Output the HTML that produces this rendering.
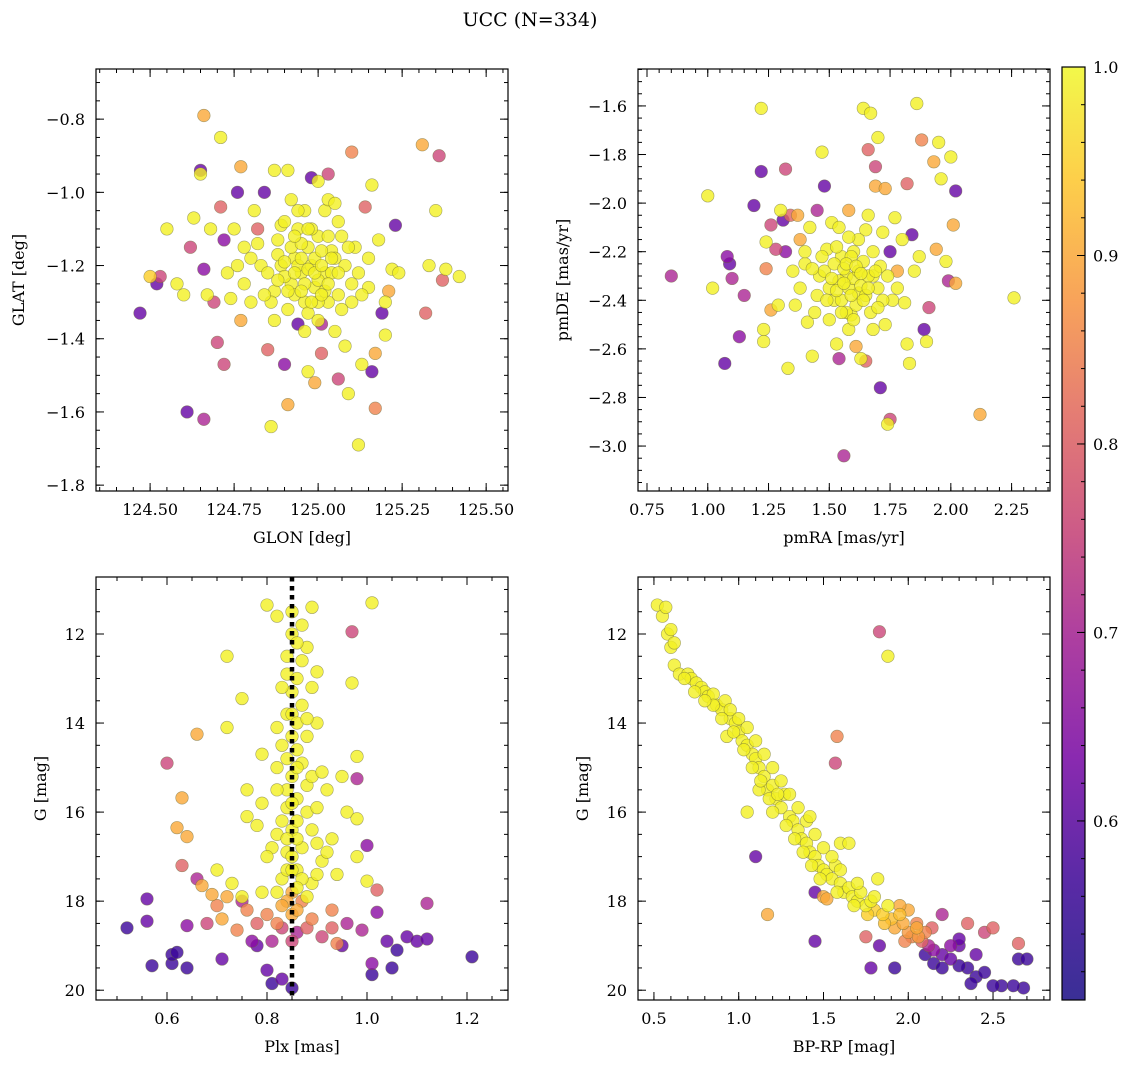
<!DOCTYPE html>
<html><head><meta charset="utf-8"><style>
body{margin:0;background:#fff}
svg{display:block}
svg text{font-family:"DejaVu Serif","Liberation Serif",serif}
</style></head><body>
<svg id="fig" width="1136" height="1068" viewBox="0 0 1136 1068">
<defs><linearGradient id="cg" x1="0" y1="1" x2="0" y2="0">
<stop offset="0" stop-color="#3a2f96"/><stop offset="0.13" stop-color="#5a2aa6"/><stop offset="0.26" stop-color="#8a2ab0"/><stop offset="0.39" stop-color="#ae3fa0"/><stop offset="0.5" stop-color="#cc5a88"/><stop offset="0.63" stop-color="#e57d73"/><stop offset="0.75" stop-color="#f8a35a"/><stop offset="0.88" stop-color="#fdcf4a"/><stop offset="1" stop-color="#f2f84a"/></linearGradient></defs>
<text x="530" y="26" font-size="19" text-anchor="middle">UCC (N=334)</text>
</svg>
<script>
// ---- data ----
const glonGlatP = [[124.47,-1.33,0.6],[124.52,-1.25,0.6],[124.50,-1.23,0.95],[124.53,-1.23,0.75],[124.55,-1.10,0.99],[124.58,-1.25,0.99],[124.60,-1.28,0.99],[124.61,-1.60,0.6],[124.62,-1.15,0.75],[124.63,-1.07,0.99],[124.65,-0.94,0.6],[124.65,-0.95,0.99],[124.66,-0.79,0.9],[124.66,-1.62,0.7],[124.66,-1.21,0.65],[124.67,-1.28,0.99],[124.68,-1.10,0.99],[124.69,-1.30,0.75],[124.70,-1.41,0.75],[124.71,-0.85,0.99],[124.71,-1.04,0.8],[124.72,-1.13,0.65],[124.72,-1.47,0.75],[124.73,-1.22,0.99],[124.74,-1.29,0.99],[124.76,-1.00,0.6],[124.77,-1.35,0.9],[124.77,-0.93,0.9],[124.78,-1.15,0.99],[124.80,-1.30,0.99],[124.81,-1.05,0.99],[124.82,-1.10,0.8],[124.83,-1.20,0.99],[124.84,-1.00,0.6],[124.85,-1.43,0.8],[124.86,-1.64,0.99],[124.87,-0.94,0.99],[124.87,-1.27,0.99],[124.88,-1.13,0.99],[124.89,-1.20,0.99],[124.90,-1.47,0.65],[124.91,-0.94,0.99],[124.91,-1.58,0.9],[124.92,-1.25,0.99],[124.93,-1.18,0.99],[124.94,-1.10,0.99],[124.94,-1.36,0.6],[124.95,-1.22,0.99],[124.96,-1.05,0.99],[124.96,-1.30,0.99],[124.97,-1.15,0.99],[124.97,-1.49,0.99],[124.98,-0.96,0.6],[124.98,-1.20,0.99],[124.99,-1.26,0.99],[124.99,-1.52,0.9],[125.00,-1.12,0.99],[125.00,-0.97,0.99],[125.01,-1.36,0.7],[125.01,-1.44,0.8],[125.02,-1.05,0.99],[125.02,-1.22,0.99],[125.03,-1.30,0.99],[125.03,-0.95,0.75],[125.04,-1.16,0.99],[125.05,-1.38,0.99],[125.06,-1.08,0.99],[125.06,-1.51,0.75],[125.08,-1.20,0.99],[125.08,-1.42,0.99],[125.09,-1.55,0.99],[125.10,-0.89,0.85],[125.10,-1.30,0.99],[125.11,-1.15,0.99],[125.12,-1.69,0.99],[125.13,-1.47,0.99],[125.14,-1.04,0.8],[125.15,-1.26,0.99],[125.16,-0.98,0.99],[125.16,-1.49,0.6],[125.17,-1.44,0.9],[125.17,-1.59,0.85],[125.18,-1.13,0.99],[125.19,-1.33,0.6],[125.20,-1.39,0.99],[125.21,-1.27,0.9],[125.22,-1.21,0.99],[125.23,-1.09,0.6],[125.24,-1.22,0.99],[125.31,-0.87,0.9],[125.32,-1.33,0.8],[125.33,-1.20,0.99],[125.35,-1.05,0.99],[125.36,-0.90,0.75],[125.37,-1.24,0.8],[125.38,-1.21,0.99],[125.42,-1.23,0.99],
[124.88,-1.17,0.99],[124.90,-1.23,0.99],[124.92,-1.15,0.99],[124.93,-1.28,0.99],[124.94,-1.20,0.99],[124.95,-1.14,0.99],[124.96,-1.25,0.99],[124.97,-1.33,0.99],[124.98,-1.10,0.99],[124.99,-1.18,0.99],[125.00,-1.24,0.99],[125.00,-1.30,0.99],[125.01,-1.16,0.99],[125.02,-1.27,0.99],[125.03,-1.12,0.99],[125.04,-1.22,0.99],[125.05,-1.18,0.99],[125.06,-1.28,0.99],[124.91,-1.32,0.99],[124.89,-1.09,0.99],[124.85,-1.22,0.99],[124.86,-1.30,0.99],[124.94,-1.05,0.99],[125.07,-1.12,0.99],[125.03,-1.02,0.99],[124.96,-1.38,0.99],[124.92,-1.02,0.99],[124.98,-1.30,0.99],[125.12,-1.22,0.99],[124.80,-1.18,0.99],
[124.90,-1.19,0.99],[124.91,-1.27,0.99],[124.93,-1.22,0.99],[124.95,-1.18,0.99],[124.95,-1.27,0.99],[124.97,-1.21,0.99],[124.99,-1.22,0.99],[125.01,-1.20,0.99],[125.01,-1.28,0.99],[125.03,-1.25,0.99],[125.04,-1.18,0.99],[124.97,-1.10,0.99],[124.93,-1.12,0.99],[124.88,-1.24,0.99],[125.06,-1.22,0.99],[125.07,-1.32,0.99],[124.84,-1.28,0.99],[124.82,-1.14,0.99],[125.09,-1.15,0.99],[125.10,-1.25,0.99],[124.78,-1.25,0.99],[124.76,-1.20,0.99],[125.13,-1.28,0.99],[124.87,-1.35,0.99],[125.00,-1.35,0.99],[124.90,-1.08,0.99],[125.05,-1.03,0.99],[124.75,-1.10,0.99],[125.15,-1.18,0.99],[125.20,-1.30,0.99]];

const pmraPmdeP = [[0.85,-2.30,0.7],[1.00,-1.97,0.99],[1.02,-2.35,0.99],[1.07,-2.66,0.6],[1.08,-2.22,0.65],[1.09,-2.25,0.6],[1.10,-2.31,0.7],[1.13,-2.55,0.65],[1.15,-2.38,0.7],[1.19,-2.01,0.6],[1.22,-1.61,0.99],[1.22,-1.87,0.6],[1.23,-2.52,0.99],[1.23,-2.57,0.99],[1.24,-2.16,0.99],[1.24,-2.27,0.85],[1.26,-2.44,0.9],[1.26,-2.09,0.75],[1.28,-2.19,0.75],[1.29,-2.42,0.99],[1.30,-2.03,0.99],[1.31,-2.07,0.6],[1.32,-1.86,0.75],[1.32,-2.20,0.65],[1.33,-2.68,0.99],[1.34,-2.05,0.8],[1.35,-2.28,0.99],[1.37,-2.05,0.9],[1.38,-2.15,0.9],[1.40,-2.25,0.99],[1.41,-2.49,0.99],[1.42,-2.10,0.99],[1.43,-2.63,0.99],[1.45,-2.03,0.7],[1.46,-2.30,0.99],[1.47,-1.79,0.99],[1.48,-1.93,0.6],[1.49,-2.19,0.99],[1.50,-2.48,0.99],[1.51,-2.08,0.99],[1.52,-2.40,0.99],[1.53,-2.58,0.99],[1.54,-2.64,0.7],[1.55,-2.22,0.99],[1.56,-3.04,0.7],[1.57,-2.30,0.99],[1.58,-2.03,0.9],[1.59,-2.46,0.99],[1.60,-2.20,0.99],[1.61,-2.59,0.9],[1.62,-2.37,0.99],[1.63,-2.64,0.99],[1.64,-1.61,0.99],[1.65,-2.11,0.99],[1.65,-2.65,0.8],[1.66,-1.78,0.8],[1.67,-1.63,0.99],[1.68,-2.30,0.99],[1.69,-1.93,0.9],[1.69,-1.85,0.75],[1.70,-1.73,0.99],[1.71,-2.76,0.6],[1.72,-2.12,0.99],[1.73,-1.94,0.9],[1.74,-2.91,0.99],[1.75,-2.89,0.75],[1.75,-2.20,0.6],[1.76,-2.40,0.99],[1.77,-2.06,0.99],[1.78,-2.28,0.9],[1.80,-2.15,0.99],[1.81,-2.41,0.99],[1.82,-1.92,0.8],[1.82,-2.58,0.99],[1.83,-2.66,0.99],[1.84,-2.13,0.6],[1.85,-2.28,0.99],[1.86,-1.59,0.99],[1.87,-2.22,0.99],[1.88,-1.74,0.85],[1.89,-2.52,0.6],[1.90,-2.57,0.99],[1.91,-2.43,0.75],[1.93,-1.83,0.9],[1.94,-2.19,0.9],[1.95,-1.75,0.99],[1.96,-1.90,0.99],[1.98,-2.24,0.99],[1.99,-2.32,0.7],[2.00,-1.81,0.99],[2.01,-2.09,0.9],[2.02,-1.95,0.6],[2.02,-2.33,0.9],[2.12,-2.87,0.9],[2.26,-2.39,0.99],
[1.48,-2.28,0.99],[1.50,-2.35,0.99],[1.52,-2.25,0.99],[1.54,-2.32,0.99],[1.55,-2.40,0.99],[1.56,-2.27,0.99],[1.58,-2.35,0.99],[1.59,-2.22,0.99],[1.60,-2.31,0.99],[1.61,-2.42,0.99],[1.62,-2.28,0.99],[1.63,-2.34,0.99],[1.64,-2.24,0.99],[1.65,-2.38,0.99],[1.66,-2.30,0.99],[1.67,-2.45,0.99],[1.68,-2.20,0.99],[1.70,-2.35,0.99],[1.71,-2.26,0.99],[1.72,-2.40,0.99],[1.57,-2.45,0.99],[1.53,-2.18,0.99],[1.45,-2.38,0.99],[1.62,-2.15,0.99],[1.73,-2.50,0.99],[1.58,-2.52,0.99],[1.66,-2.05,0.99],[1.43,-2.27,0.99],
[1.51,-2.31,0.99],[1.53,-2.36,0.99],[1.56,-2.33,0.99],[1.57,-2.25,0.99],[1.59,-2.38,0.99],[1.61,-2.26,0.99],[1.63,-2.29,0.99],[1.64,-2.40,0.99],[1.66,-2.35,0.99],[1.69,-2.28,0.99],[1.55,-2.45,0.99],[1.60,-2.48,0.99],[1.49,-2.40,0.99],[1.47,-2.22,0.99],[1.70,-2.43,0.99],[1.74,-2.30,0.99],[1.58,-2.14,0.99],[1.54,-2.10,0.99],[1.44,-2.45,0.99],[1.38,-2.35,0.99],[1.78,-2.35,0.99],[1.68,-2.52,0.99],[1.40,-2.20,0.99],[1.36,-2.42,0.99]];

const plxGP = [[0.52,18.6,0.55],[0.56,17.95,0.6],[0.56,18.45,0.6],[0.57,19.45,0.55],[0.60,14.9,0.75],[0.61,19.4,0.55],[0.61,19.2,0.55],[0.62,19.15,0.55],[0.62,16.35,0.9],[0.63,15.68,0.9],[0.63,17.2,0.8],[0.64,18.55,0.65],[0.64,16.55,0.9],[0.64,19.5,0.55],[0.66,14.25,0.9],[0.66,17.5,0.7],[0.67,17.65,0.9],[0.68,18.5,0.75],[0.69,17.85,0.9],[0.70,17.3,0.99],[0.70,18.1,0.85],[0.71,19.3,0.6],[0.71,18.4,0.9],[0.72,14.1,0.99],[0.72,12.5,0.99],[0.73,17.6,0.99],[0.74,18.65,0.85],[0.75,13.45,0.99],[0.75,17.9,0.99],[0.75,18.0,0.7],[0.76,15.5,0.99],[0.76,16.1,0.99],[0.77,18.9,0.65],[0.78,19.0,0.6],[0.78,18.5,0.8],[0.79,17.8,0.99],[0.79,14.7,0.99],[0.80,18.3,0.85],[0.80,19.55,0.6],[0.80,11.35,0.99],[0.81,19.85,0.55],[0.82,11.6,0.99],[0.82,15.0,0.99],[0.82,16.5,0.99],[0.83,17.5,0.99],[0.83,18.6,0.75],[0.83,19.75,0.6],[0.84,12.9,0.99],[0.84,13.8,0.99],[0.84,15.9,0.99],[0.84,16.9,0.99],[0.85,12.0,0.99],[0.85,13.3,0.99],[0.85,14.3,0.99],[0.85,15.2,0.99],[0.85,16.4,0.99],[0.85,17.0,0.99],[0.85,17.8,0.9],[0.85,18.3,0.9],[0.85,19.95,0.55],[0.86,13.0,0.99],[0.86,14.6,0.99],[0.86,15.7,0.99],[0.86,16.2,0.99],[0.86,17.3,0.99],[0.86,18.7,0.7],[0.87,13.6,0.99],[0.87,14.9,0.99],[0.87,16.8,0.99],[0.87,18.0,0.85],[0.88,12.3,0.99],[0.88,15.4,0.99],[0.88,16.0,0.99],[0.89,11.4,0.99],[0.89,13.2,0.99],[0.89,17.6,0.99],[0.89,18.4,0.85],[0.90,14.0,0.99],[0.90,15.9,0.99],[0.90,12.85,0.99],[0.91,17.1,0.99],[0.91,18.8,0.75],[0.92,15.5,0.99],[0.93,16.6,0.99],[0.93,18.2,0.85],[0.94,17.4,0.99],[0.94,18.95,0.85],[0.95,15.2,0.99],[0.95,19.0,0.6],[0.96,16.0,0.99],[0.96,18.5,0.7],[0.97,13.1,0.99],[0.97,11.95,0.75],[0.98,17.0,0.99],[0.98,14.75,0.99],[0.98,15.25,0.7],[0.98,16.15,0.99],[0.99,18.65,0.7],[1.00,17.55,0.99],[1.00,16.75,0.65],[1.01,11.3,0.99],[1.01,19.4,0.65],[1.01,19.65,0.55],[1.02,17.75,0.8],[1.02,18.25,0.65],[1.04,18.9,0.6],[1.05,19.5,0.55],[1.06,19.1,0.55],[1.08,18.8,0.6],[1.10,18.9,0.6],[1.12,18.85,0.6],[1.12,18.05,0.7],[1.21,19.25,0.55],
[0.83,14.5,0.99],[0.84,15.5,0.99],[0.86,16.6,0.99],[0.87,17.5,0.99],[0.83,16.2,0.99],[0.88,14.3,0.99],[0.84,17.3,0.99],[0.82,17.8,0.99],[0.88,17.9,0.99],[0.81,16.8,0.99],[0.89,16.4,0.99],[0.84,18.0,0.9],[0.86,18.2,0.9],[0.82,18.5,0.85],[0.90,17.4,0.99],[0.80,17.0,0.99],[0.87,12.6,0.99],[0.83,13.2,0.99],[0.89,15.2,0.99],[0.92,16.9,0.99],[0.79,15.8,0.99],[0.93,18.6,0.8],
[0.85,11.5,0.99],[0.86,12.2,0.99],[0.84,12.5,0.99],[0.85,13.8,0.99],[0.86,14.0,0.99],[0.84,14.8,0.99],[0.86,15.0,0.99],[0.85,15.8,0.99],[0.84,16.6,0.99],[0.85,17.3,0.99],[0.86,17.7,0.99],[0.83,18.1,0.9],[0.88,18.6,0.8],[0.85,18.9,0.75],[0.81,18.9,0.7],[0.76,18.2,0.85],[0.72,17.9,0.9],[0.90,16.7,0.99],[0.82,15.5,0.99],[0.78,16.3,0.99],[0.91,15.1,0.99],[0.88,13.9,0.99],[0.82,14.1,0.99],[0.87,11.8,0.99]];

const bprpGP = [[0.52,11.35,0.99],[0.55,11.6,0.99],[0.57,11.4,0.99],[0.58,12.0,0.99],[0.60,11.9,0.99],[0.60,12.3,0.99],[0.62,12.2,0.99],[0.62,12.7,0.99],[0.65,12.9,0.99],[0.70,12.9,0.99],[0.72,13.0,0.99],[0.75,13.1,0.99],[0.78,13.2,0.99],[0.80,13.3,0.99],[0.82,13.4,0.99],[0.85,13.35,0.99],[0.87,13.6,0.99],[0.90,13.7,0.99],[0.92,13.5,0.99],[0.95,13.9,0.99],[0.98,14.0,0.99],[1.00,14.2,0.99],[1.02,14.4,0.99],[1.05,14.5,0.99],[1.08,14.7,0.99],[1.10,14.8,0.99],[1.12,15.0,0.99],[1.15,15.2,0.99],[1.17,15.5,0.99],[1.20,15.4,0.99],[1.22,15.7,0.99],[1.25,15.9,0.99],[1.27,15.6,0.99],[1.30,16.1,0.99],[1.32,16.2,0.99],[1.35,16.4,0.99],[1.37,16.6,0.99],[1.40,16.7,0.99],[1.42,16.9,0.99],[1.45,17.0,0.99],[1.47,17.2,0.99],[1.50,17.3,0.99],[1.52,17.4,0.99],[1.55,17.5,0.99],[1.57,17.2,0.99],[1.60,17.6,0.99],[1.62,17.8,0.99],[1.65,17.7,0.99],[1.67,17.9,0.99],[1.70,18.0,0.99],[1.72,17.8,0.99],[1.75,18.1,0.99],[1.78,18.0,0.99],[1.80,18.2,0.95],[1.82,17.5,0.99],[1.85,18.3,0.95],[1.88,18.1,0.99],[1.90,18.4,0.93],[1.92,18.6,0.9],[1.95,18.3,0.93],[1.97,18.5,0.9],[2.00,18.7,0.88],[2.02,18.8,0.85],[2.05,18.6,0.9],[2.08,18.9,0.8],[2.10,18.7,0.85],[2.12,19.0,0.7],[2.15,19.1,0.65],[2.20,19.2,0.6],[2.25,19.3,0.6],[2.30,19.0,0.6],[2.35,19.5,0.55],[2.40,19.7,0.55],[2.45,19.6,0.55],[2.55,19.9,0.55],[2.65,19.3,0.55],[2.68,19.95,0.55],[2.70,19.3,0.55],
[1.10,17.0,0.6],[1.17,18.3,0.9],[1.45,18.9,0.6],[1.58,14.3,0.85],[1.57,14.9,0.75],[1.83,11.95,0.75],[1.88,12.5,0.99],[1.78,19.5,0.6],[1.83,19.0,0.6],[1.92,19.5,0.55],[1.75,18.8,0.8],[1.50,17.9,0.9],[1.52,17.95,0.9],[1.45,17.8,0.6],[2.20,18.3,0.7],[2.35,18.5,0.8],[2.45,18.7,0.75],[2.50,18.6,0.8],[2.65,18.95,0.8],[2.30,19.45,0.55],[2.37,19.85,0.55],[2.50,19.9,0.55],[2.62,19.9,0.55],[2.10,19.2,0.55],[2.15,19.4,0.55],[2.20,19.5,0.55],[2.25,19.0,0.65],[2.30,18.85,0.6],[2.40,19.2,0.6],[2.00,18.2,0.9],[2.05,18.5,0.85],[1.95,18.1,0.9],
[0.85,13.6,0.99],[0.95,13.7,0.99],[1.00,13.9,0.99],[1.05,14.1,0.99],[1.10,14.4,0.99],[1.15,14.7,0.99],[1.20,15.0,0.99],[1.25,15.3,0.99],[1.30,15.6,0.99],[1.35,15.9,0.99],[1.40,16.2,0.99],[1.45,16.5,0.99],[1.50,16.8,0.99],[1.55,17.0,0.99],[1.60,17.3,0.99],[1.70,17.6,0.99],[1.80,17.9,0.99],[1.20,16.0,0.99],[1.05,16.0,0.99],[1.42,16.1,0.99],[1.60,16.7,0.99],[1.65,16.7,0.99],[0.93,14.3,0.99],[1.12,15.5,0.99],
[0.68,13.0,0.99],[0.74,13.3,0.99],[0.80,13.5,0.99],[0.90,13.9,0.99],[0.97,14.2,0.99],[1.03,14.6,0.99],[1.08,15.0,0.99],[1.13,15.3,0.99],[1.18,15.7,0.99],[1.23,15.6,0.99],[1.28,16.3,0.99],[1.33,16.6,0.99],[1.38,16.9,0.99],[1.43,17.2,0.99],[1.48,17.5,0.99],[1.58,17.8,0.99],[1.68,18.1,0.99],[1.76,18.3,0.95],[1.86,18.5,0.93],[1.98,18.9,0.85],[2.06,18.8,0.88],[2.14,18.6,0.8]];

const plxLine = 0.85;
const cbTicks = [0.6,0.7,0.8,0.9,1.0];
const p1XTicks=[124.5,124.75,125,125.25,125.5], p1YTicks=[-0.8,-1.0,-1.2,-1.4,-1.6,-1.8];
const p2XTicks=[0.75,1.0,1.25,1.5,1.75,2.0,2.25], p2YTicks=[-1.6,-1.8,-2.0,-2.2,-2.4,-2.6,-2.8,-3.0];
const p3XTicks=[0.6,0.8,1.0,1.2], gTicks=[12,14,16,18,20];
const p4XTicks=[0.5,1.0,1.5,2.0,2.5];

// ---- drawing ----
const NS="http://www.w3.org/2000/svg", svg=document.getElementById('fig');
function mk(t,a,p){const e=document.createElementNS(NS,t);for(const k in a)e.setAttribute(k,a[k]);(p||svg).appendChild(e);return e;}
const stops=[[0,[13,8,135]],[0.13,[76,2,161]],[0.26,[126,3,168]],[0.39,[169,35,149]],[0.5,[204,71,120]],[0.63,[229,107,93]],[0.75,[248,149,64]],[0.88,[253,197,39]],[1,[240,249,33]]];
const vmin=0.505,vmax=1.0;
function cmap(v){let t=Math.max(0,Math.min(1,(v-vmin)/(vmax-vmin)));for(let i=1;i<stops.length;i++){if(t<=stops[i][0]){const a=stops[i-1],b=stops[i],f=(t-a[0])/(b[0]-a[0]);return 'rgb('+a[1].map((c,j)=>Math.round(c+(b[1][j]-c)*f)).join(',')+')';}}return 'rgb(240,249,33)';}
function fmt(v,d){return v.toFixed(d).replace('-','\u2212');}
function panel(o){
  const g=mk('g',{});
  
  
  const sx=v=>o.x0+(v-o.xr[0])/(o.xr[1]-o.xr[0])*(o.x1-o.x0);
  const sy=v=>o.inv? o.y0+(v-o.yr[0])/(o.yr[1]-o.yr[0])*(o.y1-o.y0) : o.y1-(v-o.yr[0])/(o.yr[1]-o.yr[0])*(o.y1-o.y0);
  const pts=o.data.slice().sort((a,b)=>a[2]-b[2]);
  for(const d of pts){const c=mk('circle',{cx:sx(d[0]),cy:sy(d[1]),r:6.3,fill:cmap(d[2]),'fill-opacity':0.8,stroke:'#6b6b3a','stroke-opacity':0.6,'stroke-width':0.6},g);
    
    }
  if(o.vline!==undefined){const l=mk('line',{x1:sx(o.vline),x2:sx(o.vline),y1:o.y0,y2:o.y1,stroke:'#000','stroke-width':4.5,'stroke-dasharray':'4.5,4.5'},g);
    
    }
  const fr=mk('rect',{x:o.x0,y:o.y0,width:o.x1-o.x0,height:o.y1-o.y0,fill:'none',stroke:'#000','stroke-width':1.2},g);
  
  
  const tk=(x1,y1,x2,y2)=>mk('line',{x1,y1,x2,y2,stroke:'#000','stroke-width':1},g);
  const lo=Math.min(...o.xr),hi=Math.max(...o.xr);
  for(let v=Math.ceil(lo/o.xm-1e-6)*o.xm;v<=hi;v+=o.xm){const x=sx(v);tk(x,o.y1,x,o.y1-4);tk(x,o.y0,x,o.y0+4);}
  const ylo=Math.min(...o.yr),yhi=Math.max(...o.yr);
  for(let v=Math.ceil(ylo/o.ym-1e-6)*o.ym;v<=yhi;v+=o.ym){const y=sy(v);tk(o.x0,y,o.x0+4,y);tk(o.x1,y,o.x1-4,y);}
  for(const v of o.xt){const x=sx(v);tk(x,o.y1,x,o.y1-8);tk(x,o.y0,x,o.y0+8);
    const t=mk('text',{x:x,y:o.y1+24,'font-size':16,'text-anchor':'middle'},g);t.textContent=fmt(v,o.xd);
    
    }
  for(const v of o.yt){const y=sy(v);tk(o.x0,y,o.x0+8,y);tk(o.x1,y,o.x1-8,y);
    const t=mk('text',{x:o.x0-11,y:y+6,'font-size':16,'text-anchor':'end'},g);t.textContent=fmt(v,o.yd);
    
    }
  const xl=mk('text',{x:(o.x0+o.x1)/2,y:o.y1+52,'font-size':16,'text-anchor':'middle'},g);xl.textContent=o.xl;
  
  
  const yx=o.ylx,yy=(o.y0+o.y1)/2;
  const yl=mk('text',{x:yx,y:yy,'font-size':16,'text-anchor':'middle',transform:`rotate(-90 ${yx} ${yy})`},g);yl.textContent=o.yl;
  
  
}
panel({name:'glon-glat-panel',data:glonGlatP,x0:96,x1:508,y0:69,y1:491,xr:[124.339,125.565],yr:[-1.816,-0.663],xt:p1XTicks,yt:p1YTicks,xd:2,yd:1,xm:0.05,ym:0.05,xl:'GLON [deg]',yl:'GLAT [deg]',ylx:24});
panel({name:'pm-panel',data:pmraPmdeP,x0:638,x1:1050,y0:69,y1:491,xr:[0.713,2.408],yr:[-3.185,-1.448],xt:p2XTicks,yt:p2YTicks,xd:2,yd:1,xm:0.05,ym:0.05,xl:'pmRA [mas/yr]',yl:'pmDE [mas/yr]',ylx:568});
panel({name:'plx-g-panel',data:plxGP,x0:96,x1:508,y0:577,y1:1000,xr:[0.458,1.282],yr:[10.72,20.22],inv:true,xt:p3XTicks,yt:gTicks,xd:1,yd:0,xm:0.05,ym:0.5,xl:'Plx [mas]',yl:'G [mag]',ylx:46,vline:plxLine});
panel({name:'cmd-panel',data:bprpGP,x0:638,x1:1050,y0:577,y1:1000,xr:[0.406,2.836],yr:[10.72,20.22],inv:true,xt:p4XTicks,yt:gTicks,xd:1,yd:0,xm:0.1,ym:0.5,xl:'BP-RP [mag]',yl:'G [mag]',ylx:588});
// colorbar
const cb=mk('g',{});


const cy0=67,cy1=1000,cx0=1062,cx1=1085;
mk('rect',{x:cx0,y:cy0,width:cx1-cx0,height:cy1-cy0,fill:'url(#cg)',stroke:'#000','stroke-width':1.2},cb);
const cby=v=>cy1-(v-vmin)/(vmax-vmin)*(cy1-cy0);
for(let v=0.52;v<=1.0001;v+=0.02){const y=cby(v);mk('line',{x1:cx1,x2:cx1-4,y1:y,y2:y,stroke:'#000','stroke-width':1},cb);}
for(const v of cbTicks){const y=cby(v);mk('line',{x1:cx1,x2:cx1-8,y1:y,y2:y,stroke:'#000','stroke-width':1},cb);
  const t=mk('text',{x:cx1+8,y:y+6,'font-size':16},cb);t.textContent=v.toFixed(1);
  
  }
</script>
</body></html>
